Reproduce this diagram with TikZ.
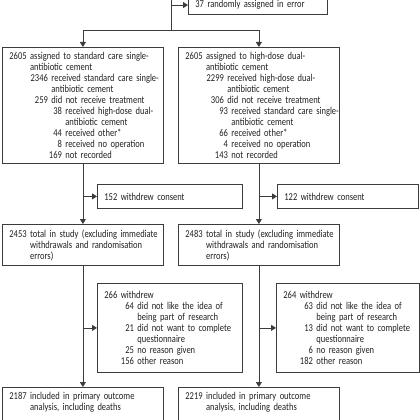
\documentclass[tikz,border=0pt]{standalone}
\usepackage{fontspec}
\setmainfont[FakeStretch=0.81]{Carlito}
\usetikzlibrary{arrows.meta,positioning}
\definecolor{ink}{RGB}{35,31,32}
\definecolor{rule}{RGB}{60,60,60}
% one top-level count with hanging text, and an indented sub-count
\newcommand\mainline[2]{{\rightskip=-20pt plus 1fil
  \setbox0=\hbox{#1\ }\hangindent=\wd0 \hangafter=1
  \noindent\box0 #2\par}}
\newcommand\subline[3]{{\rightskip=-20pt plus 1fil
  \leftskip=#1\relax\noindent\llap{#2\ }#3\par}}
\tikzset{
  box/.style={draw=rule,line width=0.8pt,anchor=north west,align=left,
              inner xsep=7pt,inner ysep=5pt,text=ink,
              font=\fontsize{10.5}{11}\selectfont},
  wide/.style={box,text width=147pt},
  side/.style={box,text width=131pt},
  arr/.style={-{Triangle[length=5pt,width=6pt]},line width=0.8pt,draw=rule},
  link/.style={line width=0.8pt,draw=rule},
}
\begin{document}
\begin{tikzpicture}[x=1pt,y=-1pt]
    \useasboundingbox (0,0) rectangle (420,420);
    \clip (0,0) rectangle (420,420);
    \node[box,anchor=south west,text width=125pt] (err) at (188,15) {37 randomly assigned in error};
    \node[wide] (std) at (2,47) {%
      \mainline{2605}{assigned to standard care single-\newline antibiotic cement}
      \subline{42pt}{2346}{received standard care single-\newline antibiotic cement}
      \subline{42pt}{259}{did not receive treatment}
      \subline{56pt}{38}{received high-dose dual-\newline antibiotic cement}
      \subline{56pt}{44}{received other*}
      \subline{56pt}{8}{received no operation}
      \subline{56pt}{169}{not recorded}};
    \node[wide] (hd) at (178,47) {%
      \mainline{2605}{assigned to high-dose dual-\newline antibiotic cement}
      \subline{42pt}{2299}{received high-dose dual-\newline antibiotic cement}
      \subline{42pt}{306}{did not receive treatment}
      \subline{46pt}{93}{received standard care single-\newline antibiotic cement}
      \subline{46pt}{66}{received other*}
      \subline{46pt}{4}{received no operation}
      \subline{46pt}{143}{not recorded}};
    \node[side,minimum height=24pt] (cons1) at (97,184) {152 withdrew consent};
    \node[side,text width=127pt,minimum height=24pt] (cons2) at (277,184) {122 withdrew consent};
    \node[wide] (tot1) at (2,224) {%
      \mainline{2453}{total in study (excluding immediate\newline withdrawals and randomisation\newline errors)}};
    \node[wide] (tot2) at (178,224) {%
      \mainline{2483}{total in study (excluding immediate\newline withdrawals and randomisation\newline errors)}};
    \node[side,minimum height=89pt] (wd1) at (97,283) {%
      \mainline{266}{withdrew}
      \subline{33pt}{64}{did not like the idea of\newline being part of research}
      \subline{33pt}{21}{did not want to complete\newline questionnaire}
      \subline{33pt}{25}{no reason given}
      \subline{33pt}{156}{other reason}};
    \node[side,text width=129pt,minimum height=89pt] (wd2) at (276,283) {%
      \mainline{264}{withdrew}
      \subline{33pt}{63}{did not like the idea of\newline being part of research}
      \subline{33pt}{13}{did not want to complete\newline questionnaire}
      \subline{33pt}{6}{no reason given}
      \subline{33pt}{182}{other reason}};
    \node[wide,text depth=40pt] (inc1) at (2,387) {%
      \mainline{2187}{included in primary outcome\newline analysis, including deaths}};
    \node[wide,text depth=40pt] (inc2) at (178,387) {%
      \mainline{2219}{included in primary outcome\newline analysis, including deaths}};
    \coordinate (top) at (171,-20);
    \coordinate (split) at (171,30);
    \draw[link] (top) -- (split);
    \draw[arr] (top |- err.west) -- (err.west);
    \draw[link] (std.north |- split) -- (hd.north |- split);
    \draw[arr] (std.north |- split) -- (std.north);
    \draw[arr] (hd.north |- split) -- (hd.north);
    \draw[arr] (std.south) -- (tot1.north);
    \draw[arr] (std.south |- cons1.west) -- (cons1.west);
    \draw[arr] (hd.south) -- (tot2.north);
    \draw[arr] (hd.south |- cons2.west) -- (cons2.west);
    \draw[arr] (tot1.south) -- (inc1.north);
    \draw[arr] (tot1.south |- wd1.west) -- (wd1.west);
    \draw[arr] (tot2.south) -- (inc2.north);
    \draw[arr] (tot2.south |- wd2.west) -- (wd2.west);
\end{tikzpicture}
\end{document}
